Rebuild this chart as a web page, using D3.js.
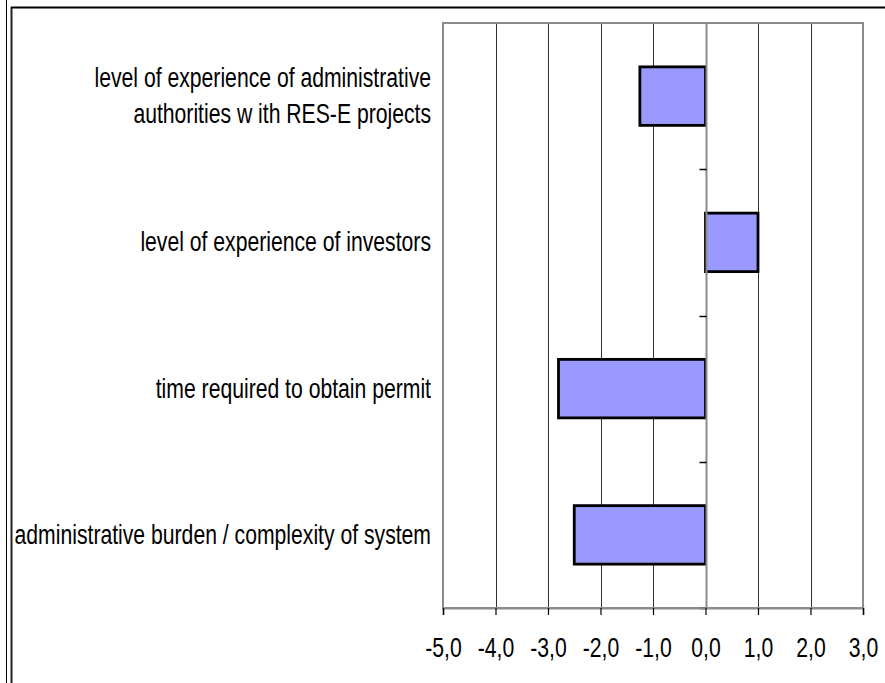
<!DOCTYPE html>
<html>
<head>
<meta charset="utf-8">
<script src="https://cdn.jsdelivr.net/npm/d3@7"></script>
<style>
  html, body { margin: 0; padding: 0; background: #fff; }
  svg { display: block; }
  text { font-family: "Liberation Sans", Arial, sans-serif; fill: #000; }
</style>
</head>
<body>
<svg id="chart" width="885" height="683"></svg>
<script>
// Barriers to RES-E permitting: average score per item
const categories = [
  "level of experience of administrative authorities w ith RES-E projects",
  "level of experience of investors",
  "time required to obtain permit",
  "administrative burden / complexity of system"
];
const categoryLines = [
  ["level of experience of administrative", "authorities w ith RES-E projects"],
  ["level of experience of investors"],
  ["time required to obtain permit"],
  ["administrative burden / complexity of system"]
];
const scores = [-1.25, 1.0, -2.8, -2.5];
const tickValues = [-5, -4, -3, -2, -1, 0, 1, 2, 3];
const tickLabels = ["-5,0", "-4,0", "-3,0", "-2,0", "-1,0", "0,0", "1,0", "2,0", "3,0"];

const svg = d3.select("#chart");
const W = 885, H = 683;
const plot = { left: 443, right: 863, top: 23, bottom: 608 };
const squeeze = 0.77;   // narrow lettering
const fontSize = 27.5;

// outer frame: double rule on the left, single rule on top
svg.append("line").attr("x1", 6.5).attr("x2", 6.5).attr("y1", 0).attr("y2", H)
  .attr("stroke", "#000").attr("stroke-width", 1);
svg.append("line").attr("x1", 11.5).attr("x2", 11.5).attr("y1", 7).attr("y2", H)
  .attr("stroke", "#222").attr("stroke-width", 2);
svg.append("line").attr("x1", 11).attr("x2", W).attr("y1", 7.5).attr("y2", 7.5)
  .attr("stroke", "#000").attr("stroke-width", 2);

const x = d3.scaleLinear().domain([-5, 3]).range([plot.left, plot.right]);
const y = d3.scaleBand().domain(categories)
  .range([plot.top, plot.bottom]).paddingInner(0.6).paddingOuter(0.3);

// vertical gridlines
svg.append("g").selectAll("line").data(tickValues.slice(1, -1)).join("line")
  .attr("x1", d => Math.round(x(d)) + 0.5).attr("x2", d => Math.round(x(d)) + 0.5)
  .attr("y1", plot.top).attr("y2", plot.bottom)
  .attr("stroke", "#333").attr("stroke-width", 1);

// plot area border (grey)
svg.append("rect")
  .attr("x", plot.left).attr("y", plot.top)
  .attr("width", plot.right - plot.left).attr("height", plot.bottom - plot.top)
  .attr("fill", "none").attr("stroke", "#8c8c8c").attr("stroke-width", 2);

// bars
svg.append("g").selectAll("rect").data(categories).join("rect")
  .attr("x", (d, i) => x(Math.min(0, scores[i])))
  .attr("y", d => y(d))
  .attr("width", (d, i) => Math.abs(x(scores[i]) - x(0)))
  .attr("height", y.bandwidth())
  .attr("fill", "#9999ff")
  .attr("stroke", "#000").attr("stroke-width", 2.8);

// category axis along zero
const yAxisX = Math.round(x(0)) + 0.5;
svg.append("line").attr("x1", yAxisX).attr("x2", yAxisX)
  .attr("y1", plot.top).attr("y2", plot.bottom)
  .attr("stroke", "#8c8c8c").attr("stroke-width", 2);
const step = y.step();
const catTicks = d3.range(1, categories.length).map(i => plot.top + i * step);
catTicks.push(plot.bottom);
svg.append("g").selectAll("line").data(catTicks).join("line")
  .attr("x1", yAxisX - 7).attr("x2", yAxisX)
  .attr("y1", d => Math.round(d) + 0.5).attr("y2", d => Math.round(d) + 0.5)
  .attr("stroke", "#000").attr("stroke-width", 1.5);

// value axis at bottom
const xAxis = d3.axisBottom(x).tickValues(tickValues)
  .tickFormat((d, i) => tickLabels[i]).tickSize(7).tickPadding(0);
const gx = svg.append("g").attr("transform", `translate(0,${plot.bottom})`).call(xAxis);
gx.select(".domain").attr("stroke", "#8c8c8c").attr("stroke-width", 2);
gx.selectAll(".tick line").attr("stroke", "#000").attr("stroke-width", 1.2);
gx.selectAll(".tick text")
  .attr("y", null).attr("dy", null)
  .attr("font-size", fontSize)
  .attr("font-family", "Liberation Sans, Arial, sans-serif")
  .attr("text-anchor", "middle")
  .attr("transform", `translate(0,49) scale(${squeeze},1)`);

// category labels
const labelX = 431;
const lineGap = 36;
const labels = svg.append("g").selectAll("text").data(categories).join("text")
  .attr("font-size", fontSize)
  .attr("text-anchor", "end")
  .attr("transform", d => `translate(${labelX},${y(d) + y.bandwidth() / 2 + 9}) scale(${squeeze},1)`);
labels.each(function(d, i) {
  const lines = categoryLines[i];
  const off = -(lines.length - 1) * lineGap / 2;
  d3.select(this).selectAll("tspan").data(lines).join("tspan")
    .attr("x", 0)
    .attr("y", (t, k) => off + k * lineGap)
    .text(t => t);
});
</script>
</body>
</html>
